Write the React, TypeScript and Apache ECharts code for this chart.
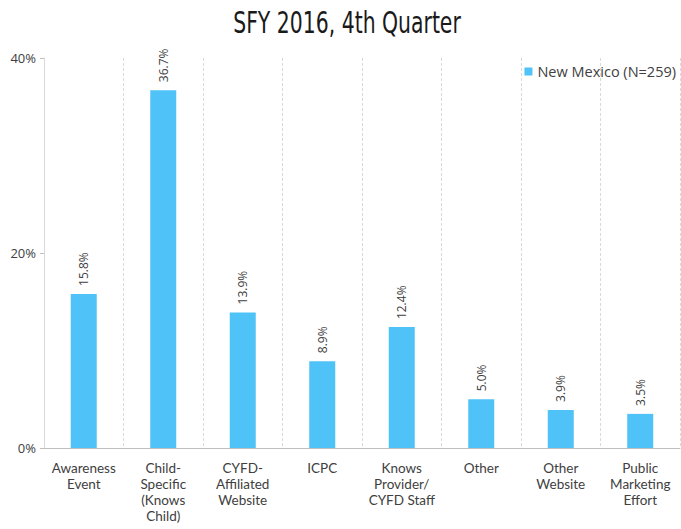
import React, { useEffect, useRef } from "react";
import * as echarts from "echarts";

const categories = [
  "Awareness\nEvent",
  "Child-\nSpecific\n(Knows\nChild)",
  "CYFD-\nAffiliated\nWebsite",
  "ICPC",
  "Knows\nProvider/\nCYFD Staff",
  "Other",
  "Other\nWebsite",
  "Public\nMarketing\nEffort",
];
const values = [15.8, 36.7, 13.9, 8.9, 12.4, 5.0, 3.9, 3.5];
const seriesName = "New Mexico (N=259)";
const yTicks = [0, 20, 40];
const titleText = "SFY 2016, 4th Quarter";

export default function App() {
  const ref = useRef<HTMLDivElement>(null);
  useEffect(() => {
    const chart = echarts.init(ref.current!, null, { renderer: "svg" });
    const font = "'Open Sans', 'Noto Sans', sans-serif";
    chart.setOption({
      animation: false,
      graphic: [
        {
          type: "text",
          x: 347,
          y: 22,
          scaleX: 0.68,
          style: {
            text: titleText,
            fontFamily: "'DejaVu Sans', sans-serif",
            fontSize: 30,
            fontWeight: "normal",
            fill: "#1a1a1a",
            textAlign: "center",
            textVerticalAlign: "middle",
          },
        },
      ],
      legend: {
        data: [seriesName],
        right: 0,
        top: 59,
        itemWidth: 8,
        itemHeight: 8,
        itemGap: 5,
        icon: "rect",
        textStyle: { fontFamily: font, fontSize: 14.5, color: "#404040" },
      },
      grid: { left: 44, right: 1, top: 58, bottom: 81 },
      xAxis: {
        type: "category",
        data: categories,
        boundaryGap: true,
        axisLine: { lineStyle: { color: "#bfbfbf" } },
        axisTick: { show: false },
        splitLine: {
          show: true,
          lineStyle: { color: "#d9d9d9", type: [3, 2] },
        },
        axisLabel: {
          interval: 0,
          fontFamily: "Lato, 'Open Sans', sans-serif",
          fontSize: 13.5,
          color: "#404040",
          lineHeight: 16,
          margin: 12,
        },
      },
      yAxis: {
        type: "value",
        min: yTicks[0],
        max: yTicks[yTicks.length - 1],
        interval: 20,
        axisLine: { show: true, lineStyle: { color: "#d9d9d9" } },
        axisTick: { show: true, length: 4, lineStyle: { color: "#bfbfbf" } },
        splitLine: { show: false },
        axisLabel: {
          formatter: (v: number) => `${v}%`,
          fontFamily: font,
          fontSize: 13,
          color: "#404040",
          margin: 8,
        },
      },
      series: [
        {
          name: seriesName,
          type: "bar",
          data: values,
          barWidth: 26,
          itemStyle: { color: "#4FC3F7" },
          label: {
            show: true,
            position: "top",
            rotate: 90,
            align: "left",
            verticalAlign: "middle",
            distance: 8,
            formatter: (p: any) => `${p.value.toFixed(1)}%`,
            fontFamily: font,
            fontSize: 12,
            color: "#404040",
          },
        },
      ],
    });
    return () => chart.dispose();
  }, []);
  return <div ref={ref} style={{ width: 681, height: 529, position: "absolute", left: 0, top: 0 }} />;
}
